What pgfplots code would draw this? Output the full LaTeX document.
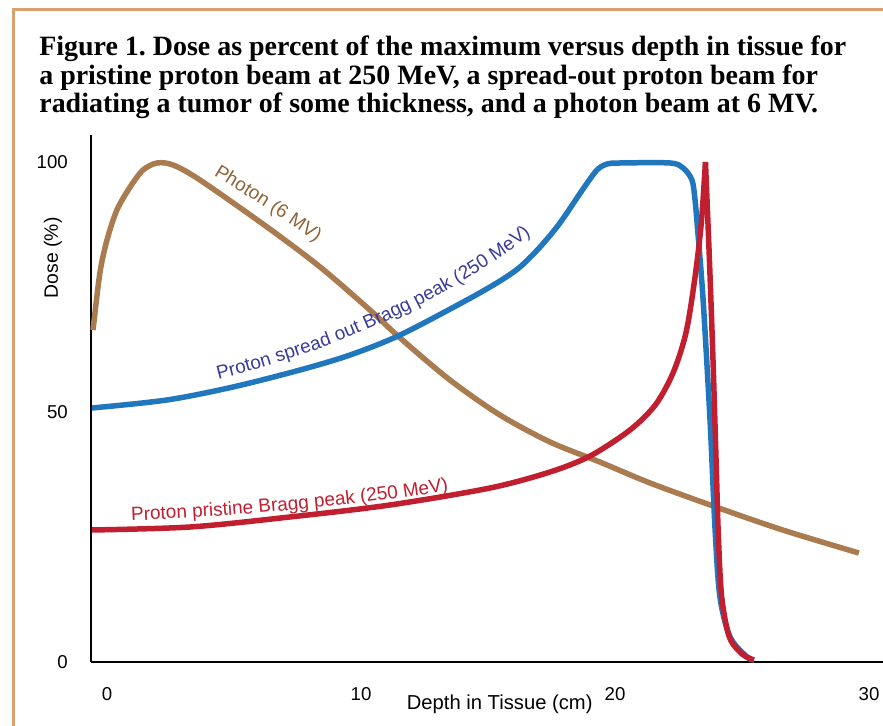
\documentclass[border=0pt]{standalone}
\usepackage{pgfplots}
\pgfplotsset{compat=1.18}
\usepackage{fontspec}
\setmainfont{Liberation Sans}
\newfontfamily\titlefont{Liberation Serif}
\usetikzlibrary{decorations.text}

\definecolor{photon}{HTML}{A97B4F}
\definecolor{sobp}{HTML}{2177BD}
\definecolor{bragg}{HTML}{C11F30}
\definecolor{sobptext}{HTML}{383B97}
\definecolor{photontext}{HTML}{8E6236}
\definecolor{frame}{HTML}{D9A26C}

\newcommand{\labfont}{\fontsize{10.8}{12}\selectfont}

\begin{document}
\begin{tikzpicture}
\useasboundingbox (0,0) rectangle (176.6mm,145.2mm);
\draw[frame, line width=0.6mm] (2.6mm,0) -- (2.6mm,143.2mm) -- (176.6mm,143.2mm);

\begin{scope}[every node/.style={anchor=base west, inner sep=0pt, font=\titlefont\bfseries\fontsize{15.9}{17}\selectfont}]
\node at (7.8mm,134mm) {Figure 1.\ Dose as percent of the maximum versus depth in tissue for};
\node at (7.8mm,128.2mm) {a pristine proton beam at 250 MeV, a spread-out proton beam for};
\node at (7.8mm,122.6mm) {radiating a tumor of some thickness, and a photon beam at 6 MV.};
\end{scope}

\begin{axis}[
    at={(18.2mm,12.8mm)}, anchor=south west,
    scale only axis,
    width=158.4mm, height=105.4mm,
    xmin=-0.63, xmax=30.55, ymin=0, ymax=105.4,
    axis x line=bottom, axis y line=left,
    axis line style={-, line width=0.45mm},
    xtick={0,10,20,30}, ytick={0,50,100},
    major tick length=0pt,
    tick label style={font=\fontsize{10.6}{12}\selectfont},
    /pgf/number format/assume math mode=true,
    xticklabel style={anchor=center, yshift=-6.4mm},
    yticklabel style={anchor=east, xshift=-3.4mm},
    xlabel={Depth in Tissue (cm)},
    ylabel={Dose (\%)},
    xlabel style={at={(axis description cs:0.516,0)}, anchor=center, yshift=-8.4mm, font=\fontsize{11.5}{13}\selectfont},
    ylabel style={at={(axis description cs:-0.048,0.767)}, anchor=center, font=\fontsize{11}{13}\selectfont},
    clip=false,
]
% photon 6 MV
\addplot[photon, line width=1.1mm, smooth, tension=0.5] coordinates {
(-0.55,66.4) (-0.28,77.8) (0.0,84.4) (0.39,90.4) (0.91,95.0) (1.42,98.4)
(1.97,99.8) (2.6,99.4) (3.66,96.4) (6.30,87.0) (8.39,79.0) (10.35,70.4)
(11.54,64.8) (13.5,56.4) (15.47,49.4) (17.44,44.0) (19.4,40.0) (21.38,35.8)
(23.86,31.2) (26.6,26.4) (29.6,21.8)};
% spread out Bragg peak
\addplot[sobp, line width=1.1mm, smooth, tension=0.5] coordinates {
(-0.59,50.8) (2.36,52.4) (4.96,55.0) (7.6,58.4) (9.57,61.4) (11.54,65.4)
(14.17,72.4) (15.47,76.2) (16.26,79.0) (17.05,83.0) (17.83,87.8) (18.74,94.6)
(19.29,98.4) (19.69,99.6) (20.2,99.8) (22.17,99.8) (22.68,98.8) (23.03,96.4)
(23.15,92.4) (23.23,87.8) (23.46,73.0) (23.74,48.4) (23.94,26.4) (24.13,13.0)
(24.53,5.0) (25.2,1.0) (25.47,0.4)};
% pristine Bragg peak
\addplot[bragg, line width=1.1mm, smooth, tension=0.5] coordinates {
(-0.59,26.4) (3.27,27.0) (7.2,29.0) (11.14,31.4) (15.08,34.8) (17.44,38.0)
(19.02,41.2) (20.59,46.4) (21.6,51.5) (22.3,58.0) (22.8,66.0) (23.15,77.0)
(23.4,88.0) (23.56,100)};
\addplot[bragg, line width=1.1mm, smooth, tension=0.5] coordinates {
(23.56,100) (23.72,80.0) (23.86,60.0) (23.98,40.0) (24.07,25.0) (24.2,13.0)
(24.5,5.0) (25.0,1.6) (25.47,0.4)};

% baselines of the curve labels (end points and control points)
\coordinate (ph0) at (axis cs:3.5,99.4);
\coordinate (ph1) at (axis cs:5.0,95.0);
\coordinate (ph2) at (axis cs:7.3,87.6);
\coordinate (ph3) at (axis cs:8.9,81.6);
\coordinate (so0) at (axis cs:4.0,56.0);
\coordinate (so1) at (axis cs:8.5,61.5);
\coordinate (so2) at (axis cs:13.5,72.0);
\coordinate (so3) at (axis cs:17.0,86.8);
\coordinate (br0) at (axis cs:0.5,28.2);
\coordinate (br1) at (axis cs:4.5,28.9);
\coordinate (br2) at (axis cs:9.5,31.0);
\coordinate (br3) at (axis cs:13.9,34.6);
\end{axis}

\path[decorate, decoration={text along path, text align=center, text color=photontext,
    text={|\labfont|Photon (6 MV)}}]
    (ph0) .. controls (ph1) and (ph2) .. (ph3);
\path[decorate, decoration={text along path, text align=center, text color=sobptext,
    text={|\labfont|Proton spread out Bragg peak (250 MeV)}}]
    (so0) .. controls (so1) and (so2) .. (so3);
\path[decorate, decoration={text along path, text align=center, text color=bragg,
    text={|\labfont|Proton pristine Bragg peak (250 MeV)}}]
    (br0) .. controls (br1) and (br2) .. (br3);
\end{tikzpicture}
\end{document}
